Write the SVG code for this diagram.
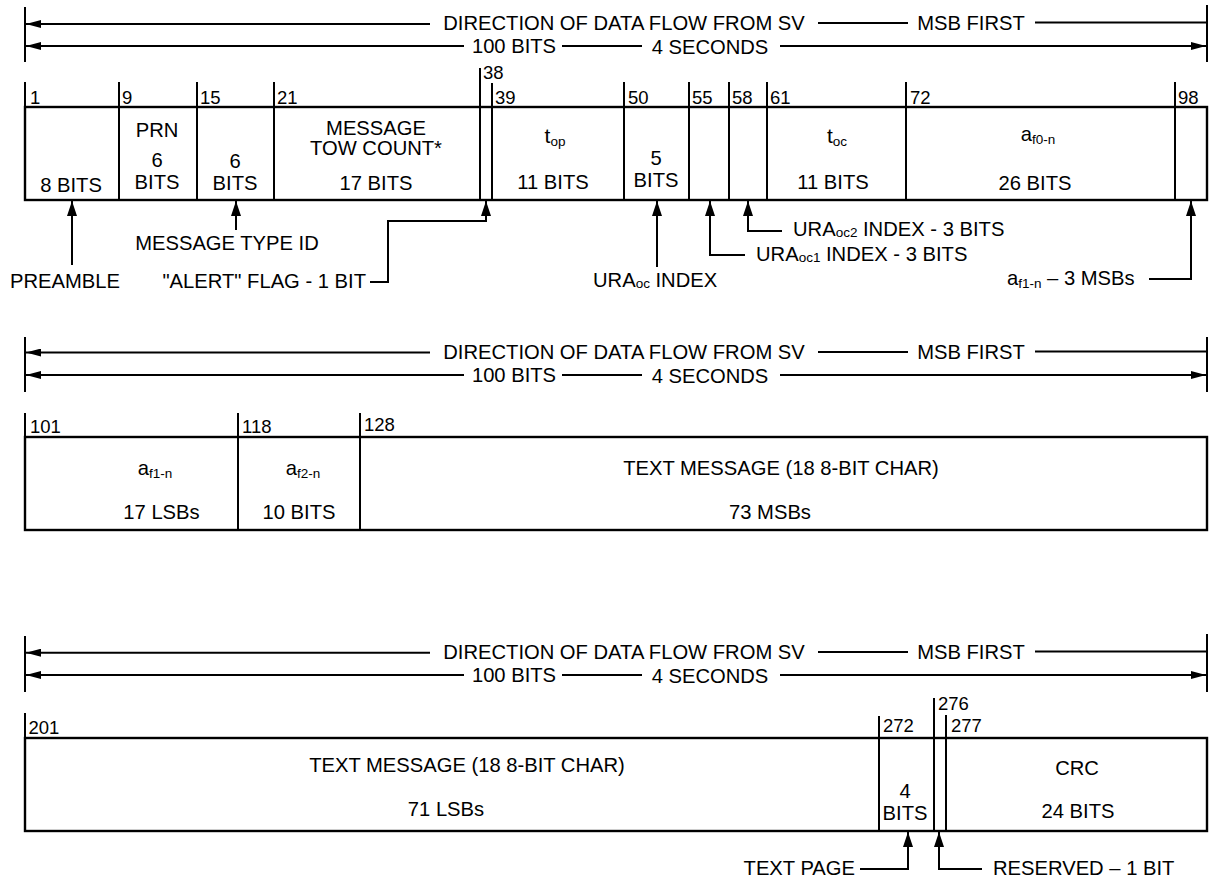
<svg xmlns="http://www.w3.org/2000/svg" width="1210" height="882" viewBox="0 0 1210 882">
<style>
text{font-family:"Liberation Sans",Arial,Helvetica,sans-serif;font-size:20.2px;fill:#000}
.m{text-anchor:middle}
.e{text-anchor:end}
.n{font-size:18.5px}
.s{font-size:13.5px}
.ln{stroke:#000;stroke-width:2;fill:none}
.bx{stroke:#000;stroke-width:2.4;fill:#fff}
.ha{marker-end:url(#ahh)}
.ua{marker-end:url(#ahu)}
</style>
<defs>
<marker id="ahh" viewBox="0 0 15 8" refX="15" refY="4" markerWidth="15" markerHeight="8" markerUnits="userSpaceOnUse" orient="auto"><path d="M0,0 L15,4 L0,8 z" fill="#000"/></marker>
<marker id="ahu" viewBox="0 0 15 10" refX="15" refY="5" markerWidth="15" markerHeight="10" markerUnits="userSpaceOnUse" orient="auto"><path d="M0,0 L15,5 L0,10 z" fill="#000"/></marker>
</defs>
<rect width="1210" height="882" fill="#fff"/>

<!-- Section 1 header -->
<g id="header1">
<line class="ln" x1="25" y1="7" x2="25" y2="62"/>
<line class="ln" x1="1207" y1="5" x2="1207" y2="62"/>
<text class="m" x="624" y="30">DIRECTION OF DATA FLOW FROM SV</text>
<text class="m" x="971" y="29.5">MSB FIRST</text>
<text class="m" x="514" y="53">100 BITS</text>
<text class="m" x="710" y="53.5">4 SECONDS</text>
</g>
<!-- Section 1 word -->
<g id="word1">
<rect class="bx" x="25" y="107" width="1182" height="93"/>
<g class="ln">
<line x1="25" y1="82" x2="25" y2="107"/>
<line x1="119" y1="82" x2="119" y2="200"/>
<line x1="197" y1="82" x2="197" y2="200"/>
<line x1="274" y1="82" x2="274" y2="200"/>
<line x1="480" y1="68" x2="480" y2="200"/>
<line x1="492" y1="83" x2="492" y2="200"/>
<line x1="624" y1="82" x2="624" y2="200"/>
<line x1="689" y1="82" x2="689" y2="200"/>
<line x1="729" y1="82" x2="729" y2="200"/>
<line x1="767" y1="82" x2="767" y2="200"/>
<line x1="906" y1="82" x2="906" y2="200"/>
<line x1="1175" y1="82" x2="1175" y2="200"/>
</g>
<text class="n" x="30" y="104">1</text>
<text class="n" x="122" y="104">9</text>
<text class="n" x="200" y="104">15</text>
<text class="n" x="277" y="104">21</text>
<text class="n" x="483" y="79">38</text>
<text class="n" x="495" y="104">39</text>
<text class="n" x="628" y="104">50</text>
<text class="n" x="692" y="104">55</text>
<text class="n" x="732" y="104">58</text>
<text class="n" x="770" y="104">61</text>
<text class="n" x="910" y="104">72</text>
<text class="n" x="1178" y="104">98</text>
</g>
<g id="f-preamble"><text class="m" x="71" y="191.5">8 BITS</text></g>
<g id="f-prn"><text class="m" x="157" y="137">PRN</text><text class="m" x="157" y="167">6</text><text class="m" x="157" y="189">BITS</text></g>
<g id="f-type"><text class="m" x="235" y="168">6</text><text class="m" x="235" y="190">BITS</text></g>
<g id="f-tow"><text class="m" x="376" y="135">MESSAGE</text><text class="m" x="376" y="155">TOW COUNT*</text><text class="m" x="376" y="190">17 BITS</text></g>
<g id="f-top"><text class="m" x="555" y="143" style="font-size:21px">t<tspan class="s" dy="3">op</tspan></text><text class="m" x="553" y="189">11 BITS</text></g>
<g id="f-ura"><text class="m" x="656" y="165">5</text><text class="m" x="656" y="187">BITS</text></g>
<g id="f-toc"><text class="m" x="837" y="143" style="font-size:21px">t<tspan class="s" dy="3">oc</tspan></text><text class="m" x="833" y="189">11 BITS</text></g>
<g id="f-af0"><text class="m" x="1038" y="141">a<tspan class="s" dy="3">f0-n</tspan></text><text class="m" x="1035" y="190">26 BITS</text></g>

<g id="labels1">
<text class="m" x="65" y="288">PREAMBLE</text>
<text class="m" x="227" y="250">MESSAGE TYPE ID</text>
<text class="e" x="366" y="288">"ALERT" FLAG - 1 BIT</text>
<text x="593" y="287">URA<tspan class="s" dy="1">oc</tspan><tspan dy="-1"> INDEX</tspan></text>
<text x="756" y="261">URA<tspan class="s" dy="1">oc1</tspan><tspan dy="-1"> INDEX - 3 BITS</tspan></text>
<text x="793" y="236">URA<tspan class="s" dy="1">oc2</tspan><tspan dy="-1"> INDEX - 3 BITS</tspan></text>
<text x="1007" y="285">a<tspan class="s" dy="3">f1-n</tspan><tspan dy="-3"> – 3 MSBs</tspan></text>
</g>

<!-- Section 2 header -->
<g id="header2">
<line class="ln" x1="25" y1="337" x2="25" y2="392"/>
<line class="ln" x1="1207" y1="337" x2="1207" y2="392"/>
<text class="m" x="624" y="359">DIRECTION OF DATA FLOW FROM SV</text>
<text class="m" x="971" y="358.5">MSB FIRST</text>
<text class="m" x="514" y="382">100 BITS</text>
<text class="m" x="710" y="382.5">4 SECONDS</text>
</g>
<g id="word2">
<rect class="bx" x="25" y="437" width="1182" height="93"/>
<g class="ln">
<line x1="25" y1="413" x2="25" y2="437"/>
<line x1="238" y1="413" x2="238" y2="530"/>
<line x1="360" y1="413" x2="360" y2="530"/>
</g>
<text class="n" x="30" y="433">101</text>
<text class="n" x="242" y="433">118</text>
<text class="n" x="364" y="431">128</text>
</g>
<g id="f-af1"><text class="m" x="155" y="475">a<tspan class="s" dy="3">f1-n</tspan></text><text class="m" x="161.5" y="519">17 LSBs</text></g>
<g id="f-af2"><text class="m" x="303" y="475">a<tspan class="s" dy="3">f2-n</tspan></text><text class="m" x="299" y="519">10 BITS</text></g>
<g id="f-text1"><text class="m" x="781" y="475">TEXT MESSAGE (18 8-BIT CHAR)</text><text class="m" x="770" y="519">73 MSBs</text></g>

<!-- Section 3 header -->
<g id="header3">
<line class="ln" x1="25" y1="636" x2="25" y2="692"/>
<line class="ln" x1="1207" y1="634" x2="1207" y2="692"/>
<text class="m" x="624" y="659">DIRECTION OF DATA FLOW FROM SV</text>
<text class="m" x="971" y="658.5">MSB FIRST</text>
<text class="m" x="514" y="682">100 BITS</text>
<text class="m" x="710" y="682.5">4 SECONDS</text>
</g>
<g id="word3">
<rect class="bx" x="25" y="738" width="1182" height="93"/>
<g class="ln">
<line x1="25" y1="713" x2="25" y2="738"/>
<line x1="879" y1="716" x2="879" y2="831"/>
<line x1="934" y1="698" x2="934" y2="831"/>
<line x1="946" y1="715" x2="946" y2="831"/>
</g>
<text class="n" x="28.5" y="734">201</text>
<text class="n" x="883" y="732">272</text>
<text class="n" x="938" y="710">276</text>
<text class="n" x="951" y="732">277</text>
</g>
<g id="f-text2"><text class="m" x="467" y="772">TEXT MESSAGE (18 8-BIT CHAR)</text><text class="m" x="446" y="816">71 LSBs</text></g>
<g id="f-page"><text class="m" x="905" y="798">4</text><text class="m" x="905" y="820">BITS</text></g>
<g id="f-crc"><text class="m" x="1077" y="775">CRC</text><text class="m" x="1078" y="818">24 BITS</text></g>
<g id="labels3">
<text class="e" x="855" y="875">TEXT PAGE</text>
<text x="993" y="875">RESERVED – 1 BIT</text>
</g>

<g id="connectors">
<g class="ln">
<!-- header arrows -->
<line class="ha" x1="430" y1="24" x2="26" y2="24"/>
<line x1="818" y1="23" x2="908" y2="23"/>
<line x1="1035" y1="22.5" x2="1207" y2="22.5"/>
<line class="ha" x1="464" y1="46" x2="26" y2="46"/>
<line x1="562" y1="46" x2="642" y2="46"/>
<line class="ha" x1="780" y1="46" x2="1206" y2="46"/>

<line class="ha" x1="430" y1="352.5" x2="26" y2="352.5"/>
<line x1="818" y1="352" x2="908" y2="352"/>
<line x1="1035" y1="351.5" x2="1207" y2="351.5"/>
<line class="ha" x1="464" y1="375" x2="26" y2="375"/>
<line x1="562" y1="375" x2="642" y2="375"/>
<line class="ha" x1="780" y1="375" x2="1206" y2="375"/>

<line class="ha" x1="430" y1="652.7" x2="26" y2="652.7"/>
<line x1="818" y1="652" x2="908" y2="652"/>
<line x1="1035" y1="651.5" x2="1207" y2="651.5"/>
<line class="ha" x1="464" y1="675" x2="26" y2="675"/>
<line x1="562" y1="675" x2="642" y2="675"/>
<line class="ha" x1="780" y1="675" x2="1206" y2="675"/>

<!-- field pointers -->
<line class="ua" x1="72" y1="265" x2="72" y2="201"/>
<line class="ua" x1="236" y1="230" x2="236" y2="201"/>
<path class="ua" d="M370,282 H388 V221 H486 V201"/>
<line class="ua" x1="657" y1="267" x2="657" y2="201"/>
<path class="ua" d="M745,255 H710 V201"/>
<path class="ua" d="M782,231 H748 V201"/>
<path class="ua" d="M1149,279 H1191 V201"/>
<path class="ua" d="M860,869 H908 V832"/>
<path class="ua" d="M982,869 H939 V832"/>
</g>
</g>
</svg>
